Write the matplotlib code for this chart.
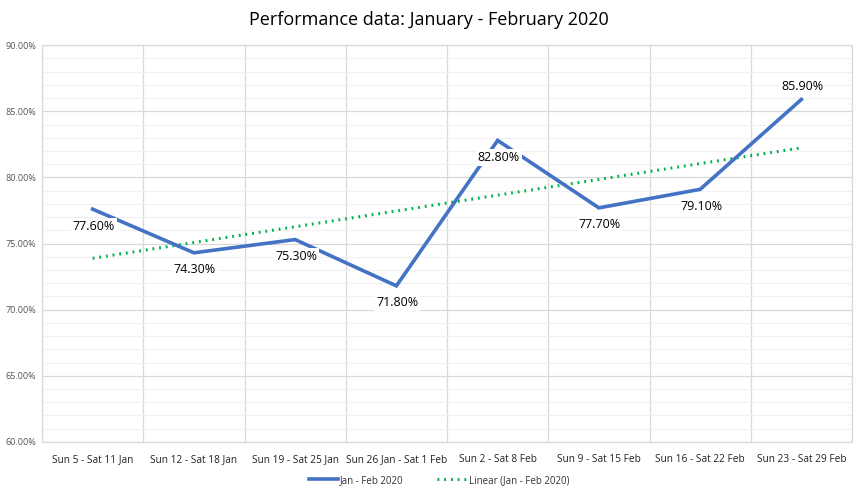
import numpy as np
import matplotlib
matplotlib.use("Agg")
from matplotlib import pyplot as plt
from matplotlib.ticker import MultipleLocator, FuncFormatter

plt.rcParams['font.family'] = ['Open Sans', 'DejaVu Sans']

weeks = ["Sun 5 - Sat 11 Jan", "Sun 12 - Sat 18 Jan", "Sun 19 - Sat 25 Jan",
         "Sun 26 Jan - Sat 1 Feb", "Sun 2 - Sat 8 Feb", "Sun 9 - Sat 15 Feb",
         "Sun 16 - Sat 22 Feb", "Sun 23 - Sat 29 Feb"]
performance = [77.6, 74.3, 75.3, 71.8, 82.8, 77.7, 79.1, 85.9]
label_above = [False, False, False, False, False, False, False, True]

blue = "#4472C4"
green = "#00B050"

x = np.arange(1, len(weeks) + 1)
y = np.array(performance)

# linear trendline, same as excel's
slope, intercept = np.polyfit(x, y, 1)
trend = slope * x + intercept

fig = plt.figure(figsize=(8.58, 4.92), dpi=100)
ax = fig.add_axes([0.049, 0.102, 0.944, 0.806])

ax.plot(x, y, color=blue, lw=2.6, solid_joinstyle='miter', zorder=3,
        label="Jan - Feb 2020")
ax.plot(x, trend, color=green, lw=2.2, linestyle=(0, (0.6, 1.6)),
        zorder=2, label="Linear (Jan - Feb 2020)")

for xi, yi, up in zip(x, y, label_above):
    off = 13 if up else -17
    ax.annotate("%.2f%%" % yi, (xi, yi), xytext=(1, off), textcoords='offset pixels',
                ha='center', va='center', fontsize=9, color='black', zorder=4,
                bbox=dict(boxstyle='square,pad=0.15', fc='white', ec='none'))

ax.set_xlim(0.5, 8.5)
ax.set_ylim(60, 90)
ax.set_xticks(x)
ax.set_xticklabels(weeks, fontsize=7.3, color='#222222')
ax.set_xticks(np.arange(0.5, 8.6, 1), minor=True)
ax.yaxis.set_major_locator(MultipleLocator(5))
ax.yaxis.set_minor_locator(MultipleLocator(1))
ax.yaxis.set_major_formatter(FuncFormatter(lambda v, p: "%.2f%%" % v))
ax.tick_params(axis='y', labelsize=6.5, labelcolor='#555555', length=0, pad=4)
ax.tick_params(axis='x', length=0, pad=9)
ax.tick_params(which='minor', length=0)

ax.grid(which='major', axis='y', color='#D9D9D9', lw=0.9)
ax.grid(which='minor', axis='y', color='#F0F0F0', lw=0.8)
ax.grid(which='minor', axis='x', color='#D9D9D9', lw=0.9)
ax.set_axisbelow(True)
for s in ax.spines.values():
    s.set_color('#D9D9D9')
    s.set_linewidth(0.9)

fig.suptitle("Performance data: January - February 2020", fontsize=13, y=0.978)

ax.legend(loc='center', bbox_to_anchor=(0.49, -0.097), ncol=2, frameon=False,
          fontsize=7, handlelength=3.0, columnspacing=3.5, handletextpad=0.2,
          labelcolor='#333333')

plt.savefig("out.png", dpi=100)
